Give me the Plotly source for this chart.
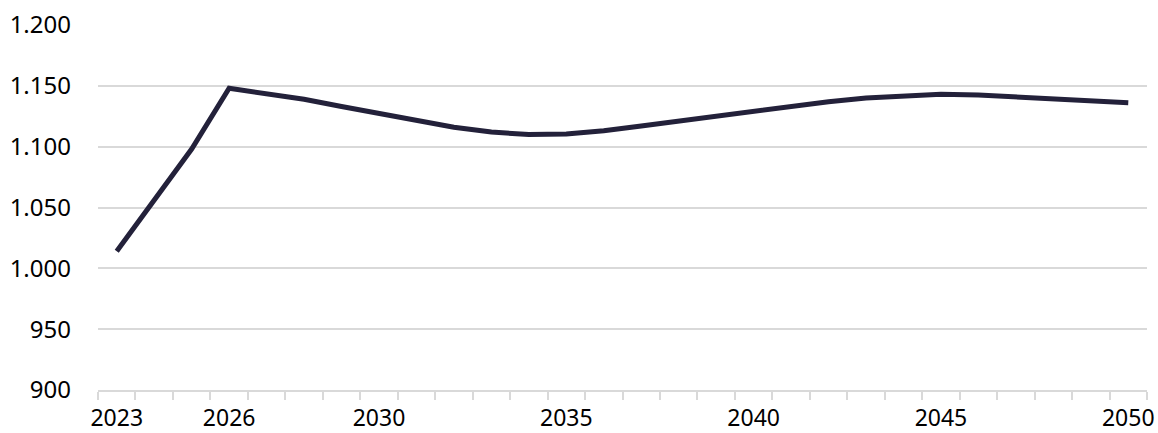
import plotly.graph_objects as go

years = list(range(2023, 2051))
values = [1014, 1056, 1098, 1148, 1144, 1139, 1133, 1127, 1121, 1116,
          1112, 1110, 1110.5, 1113, 1117, 1121, 1125.5, 1129.5, 1133, 1137,
          1140, 1142, 1143, 1142.5, 1141, 1139, 1137, 1136]
x_labels = [2023, 2026, 2030, 2035, 2040, 2045, 2050]
y_ticks = [900, 950, 1000, 1050, 1100, 1150, 1200]

boundaries = [y - 0.5 for y in years] + [years[-1] + 0.5]

fig = go.Figure()
fig.add_trace(go.Scatter(
    x=years, y=values, mode="lines",
    line=dict(color="#23213a", width=5),
    showlegend=False, hoverinfo="skip",
))

font_family = "Noto Sans"
fig.update_layout(
    width=1158, height=433,
    margin=dict(l=98, r=11, t=25, b=43),
    paper_bgcolor="white", plot_bgcolor="white",
    separators=",.",
    font=dict(family=font_family, size=24, color="#000000"),
)
fig.update_xaxes(
    range=[boundaries[0], boundaries[-1]],
    tickmode="array", tickvals=x_labels, ticktext=[str(v) for v in x_labels],
    ticks="", showgrid=False, zeroline=False, automargin=False,
    showline=True, linecolor="#d9d9d9", linewidth=1.5,
    tickfont=dict(size=23),
    ticklabelstandoff=7,
    minor=dict(tickmode="array", tickvals=boundaries, ticks="outside",
               ticklen=8, tickcolor="#d9d9d9", tickwidth=1.5, showgrid=False),
)
fig.update_yaxes(
    range=[y_ticks[0], y_ticks[-1]],
    tickmode="array", tickvals=y_ticks, tickformat=",d",
    showgrid=True, gridcolor="#d9d9d9", gridwidth=1.5,
    zeroline=False, showline=False, ticks="", automargin=False,
    ticklabelstandoff=26,
)

fig.write_html("out.html", config={"displayModeBar": False})

with open("out.html", encoding="utf-8") as f:
    html = f.read()
html = html.replace("<body>", '<body style="margin:0;padding:0;overflow:hidden">', 1)
with open("out.html", "w", encoding="utf-8") as f:
    f.write(html)
